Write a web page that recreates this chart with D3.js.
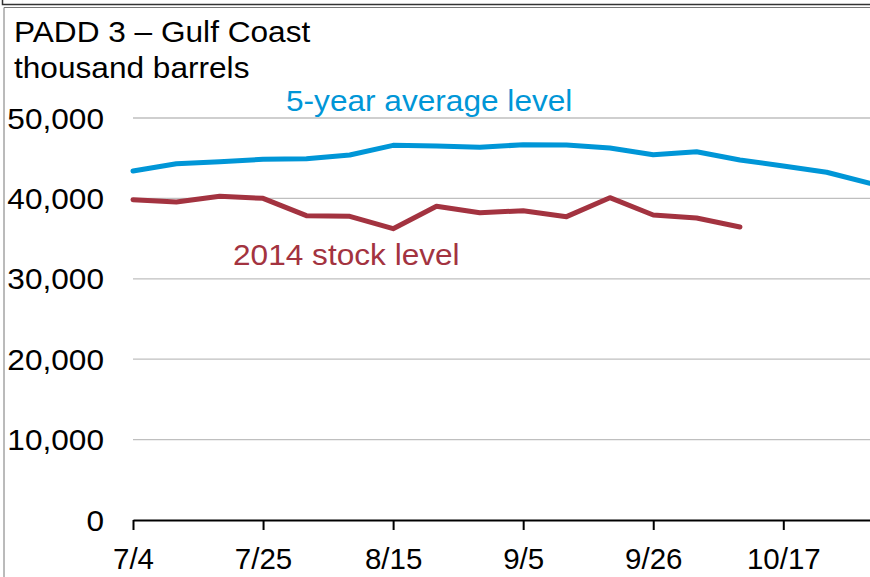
<!DOCTYPE html>
<html>
<head>
<meta charset="utf-8">
<script src="https://cdn.jsdelivr.net/npm/d3@7"></script>
<style>
  body { margin: 0; background: #fff; }
  svg text { font-family: "Liberation Sans", Arial, sans-serif; }
</style>
</head>
<body>
<div id="chart"></div>
<script>
// weekly dates, 2014
var weeks = ["2014-07-04","2014-07-11","2014-07-18","2014-07-25","2014-08-01","2014-08-08",
             "2014-08-15","2014-08-22","2014-08-29","2014-09-05","2014-09-12","2014-09-19",
             "2014-09-26","2014-10-03","2014-10-10","2014-10-17","2014-10-24","2014-10-31"];
var avg5 = [43400, 44300, 44560, 44860, 44940, 45400, 46600, 46520, 46350, 46680, 46640, 46270,
            45440, 45810, 44780, 44030, 43250, 41880];
var stock2014 = [39840, 39550, 40260, 40010, 37850, 37770, 36230, 39020, 38220, 38470, 37730, 40090,
                 37940, 37560, 36440];
var xTickDates = ["2014-07-04","2014-07-25","2014-08-15","2014-09-05","2014-09-26","2014-10-17"];
var yTicks = [0, 10000, 20000, 30000, 40000, 50000];

var W = 870, H = 577;
var parse = d3.timeParse("%Y-%m-%d");
var dates = weeks.map(parse);

var svg = d3.select('#chart').append('svg').attr('width', W).attr('height', H);

// frame bits
svg.append('path').attr('d', 'M2.5,0V4.5H870')
  .attr('fill', 'none').attr('stroke', '#333').attr('stroke-width', 1.5);
svg.append('path').attr('d', 'M4,577V7.5H870')
  .attr('fill', 'none').attr('stroke', '#777').attr('stroke-width', 1);

var x = d3.scaleTime().domain([dates[0], dates[dates.length - 1]]).range([133, 870]);
var y = d3.scaleLinear().domain([0, 50000]).range([520, 118]);

// gridlines
svg.append('g').selectAll('line')
  .data(yTicks.filter(function(d) { return d > 0; }))
  .enter().append('line')
  .attr('x1', 133).attr('x2', 870)
  .attr('y1', function(d) { return y(d); }).attr('y2', function(d) { return y(d); })
  .attr('stroke', '#bfbfbf').attr('stroke-width', 1.3);

// y labels
svg.append('g').selectAll('text')
  .data(yTicks).enter().append('text')
  .attr('transform', function(d) { return 'translate(104,' + (y(d) + 10.5) + ') scale(1.09,1)'; })
  .attr('text-anchor', 'end')
  .attr('font-size', 29)
  .text(d3.format(','));

// x axis
var xAxis = d3.axisBottom(x)
  .tickValues(xTickDates.map(parse))
  .tickFormat(d3.timeFormat('%-m/%-d'))
  .tickSizeInner(10).tickSizeOuter(0).tickPadding(0);
var gx = svg.append('g').attr('transform', 'translate(0,520)').call(xAxis);
gx.select('.domain').attr('stroke', '#000').attr('stroke-width', 2);
gx.selectAll('.tick line').attr('stroke', '#000').attr('stroke-width', 2);
gx.selectAll('.tick text')
  .attr('font-size', 29.5).attr('fill', '#000')
  .attr('dy', null).attr('y', 48.5);

// lines
var line = d3.line()
  .x(function(d, i) { return x(dates[i]); })
  .y(function(d) { return y(d); });

svg.append('path').datum(avg5)
  .attr('d', line).attr('fill', 'none')
  .attr('stroke', '#0096d7').attr('stroke-width', 5).attr('stroke-linejoin', 'round')
  .attr('stroke-linecap', 'round');
svg.append('path').datum(stock2014)
  .attr('d', line).attr('fill', 'none')
  .attr('stroke', '#a33340').attr('stroke-width', 5).attr('stroke-linejoin', 'round')
  .attr('stroke-linecap', 'round');

// labels
function label(tx, ty, str, color) {
  svg.append('text')
    .attr('transform', 'translate(' + tx + ',' + ty + ') scale(1.09,1)')
    .attr('font-size', 29).attr('fill', color).text(str);
}
label(14, 42, 'PADD 3 \u2013 Gulf Coast', '#000');
label(14, 78, 'thousand barrels', '#000');
label(286, 111, '5-year average level', '#0096d7');
label(233, 265, '2014 stock level', '#a33340');
</script>
</body>
</html>
